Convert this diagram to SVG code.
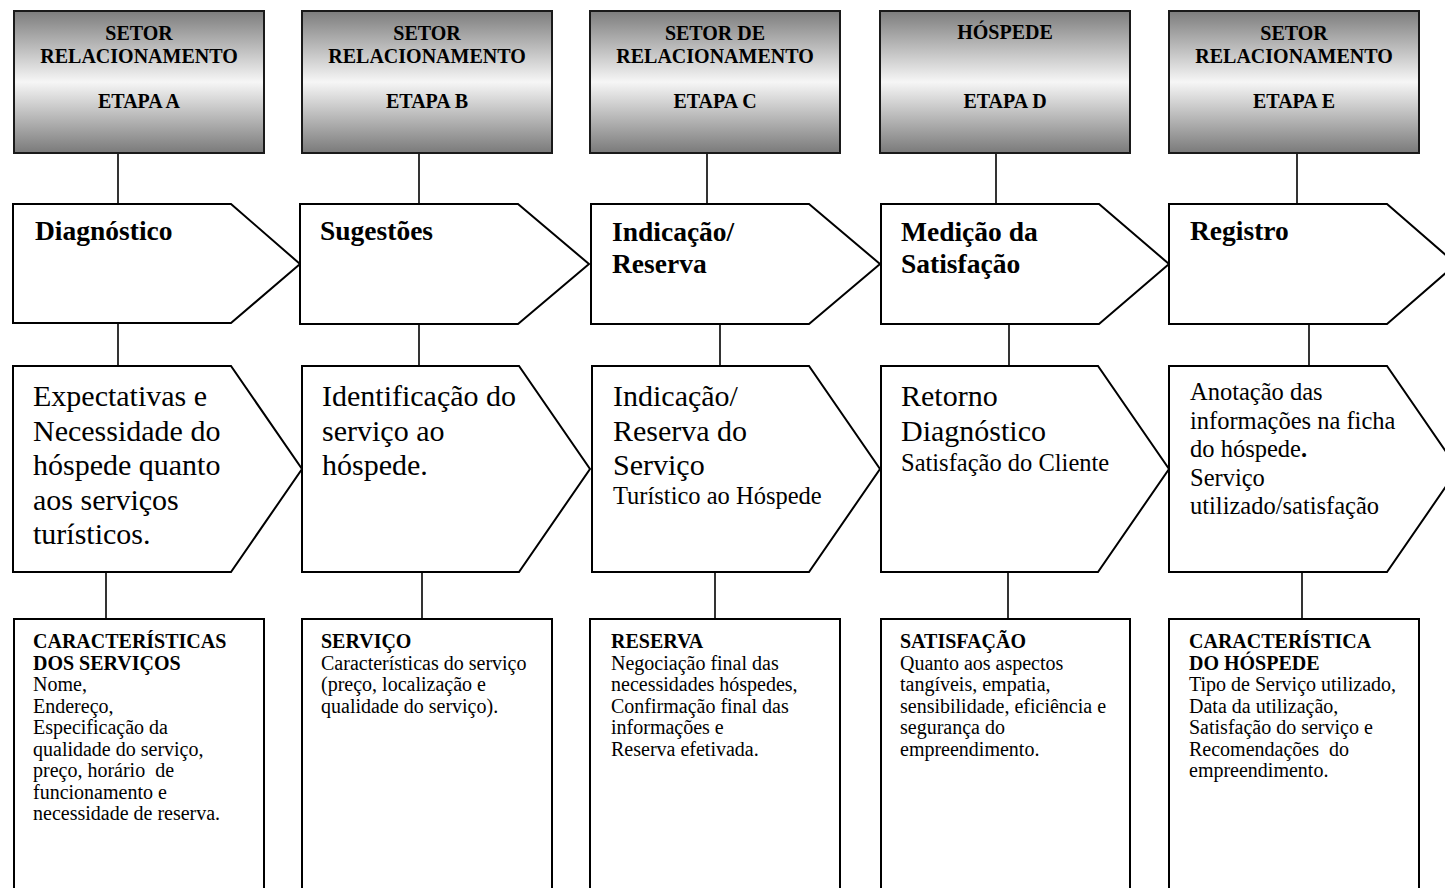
<svg xmlns="http://www.w3.org/2000/svg" width="1445" height="888" viewBox="0 0 1445 888">
<defs>
<linearGradient id="hg" x1="0" y1="0" x2="0" y2="1">
<stop offset="0" stop-color="#7d7d7d"/>
<stop offset="0.5" stop-color="#f6f6f6"/>
<stop offset="1" stop-color="#7a7a7a"/>
</linearGradient>
<style>
.hdr{fill:url(#hg);stroke:#1a1a1a;stroke-width:2}
.shape{fill:#fff;stroke:#000;stroke-width:2}
.ln{stroke:#000;stroke-width:1.6;fill:none}
text{font-family:"Liberation Serif","Times New Roman",serif;fill:#000}
.ht{font-size:20px;font-weight:bold;text-anchor:middle}
.t1{font-size:27.5px;font-weight:bold}
.t2{font-size:30px}
.t2s{font-size:24.5px}
.t3{font-size:20px}
.b{font-weight:bold}
</style>
</defs>
<rect width="1445" height="888" fill="#fff"/>

<g id="connectors">
<line class="ln" x1="118" y1="153" x2="118" y2="204"/>
<line class="ln" x1="419" y1="153" x2="419" y2="204"/>
<line class="ln" x1="707" y1="153" x2="707" y2="204"/>
<line class="ln" x1="996" y1="153" x2="996" y2="204"/>
<line class="ln" x1="1297" y1="153" x2="1297" y2="204"/>
<line class="ln" x1="118" y1="323" x2="118" y2="366"/>
<line class="ln" x1="419" y1="324" x2="419" y2="366"/>
<line class="ln" x1="720" y1="324" x2="720" y2="366"/>
<line class="ln" x1="1009" y1="324" x2="1009" y2="366"/>
<line class="ln" x1="1309" y1="324" x2="1309" y2="366"/>
<line class="ln" x1="106" y1="572" x2="106" y2="619"/>
<line class="ln" x1="422" y1="572" x2="422" y2="619"/>
<line class="ln" x1="715" y1="572" x2="715" y2="619"/>
<line class="ln" x1="1008" y1="572" x2="1008" y2="619"/>
<line class="ln" x1="1302" y1="572" x2="1302" y2="619"/>
</g>

<g id="header-a">
<rect class="hdr" x="14" y="11" width="250" height="142"/>
<text class="ht" x="139" y="40">SETOR</text>
<text class="ht" x="139" y="63">RELACIONAMENTO</text>
<text class="ht" x="139" y="108">ETAPA A</text>
</g>
<g id="header-b">
<rect class="hdr" x="302" y="11" width="250" height="142"/>
<text class="ht" x="427" y="40">SETOR</text>
<text class="ht" x="427" y="63">RELACIONAMENTO</text>
<text class="ht" x="427" y="108">ETAPA B</text>
</g>
<g id="header-c">
<rect class="hdr" x="590" y="11" width="250" height="142"/>
<text class="ht" x="715" y="40">SETOR DE</text>
<text class="ht" x="715" y="63">RELACIONAMENTO</text>
<text class="ht" x="715" y="108">ETAPA C</text>
</g>
<g id="header-d">
<rect class="hdr" x="880" y="11" width="250" height="142"/>
<text class="ht" x="1005" y="39">HÓSPEDE</text>
<text class="ht" x="1005" y="108">ETAPA D</text>
</g>
<g id="header-e">
<rect class="hdr" x="1169" y="11" width="250" height="142"/>
<text class="ht" x="1294" y="40">SETOR</text>
<text class="ht" x="1294" y="63">RELACIONAMENTO</text>
<text class="ht" x="1294" y="108">ETAPA E</text>
</g>

<g id="step-a">
<polygon class="shape" points="13,204 231,204 300,264 231,323 13,323"/>
<text class="t1" x="35" y="240">Diagnóstico</text>
</g>
<g id="step-b">
<polygon class="shape" points="300,204 518,204 589,264 518,324 300,324"/>
<text class="t1" x="320" y="240">Sugestões</text>
</g>
<g id="step-c">
<polygon class="shape" points="591,204 809,204 880,264 809,324 591,324"/>
<text class="t1" x="612" y="241">Indicação/</text>
<text class="t1" x="612" y="273">Reserva</text>
</g>
<g id="step-d">
<polygon class="shape" points="881,204 1099,204 1169,264 1099,324 881,324"/>
<text class="t1" x="901" y="241">Medição da</text>
<text class="t1" x="901" y="273">Satisfação</text>
</g>
<g id="step-e">
<polygon class="shape" points="1169,204 1387,204 1456,264 1387,324 1169,324"/>
<text class="t1" x="1190" y="240">Registro</text>
</g>

<g id="desc-a">
<polygon class="shape" points="13,366 231,366 302,469 231,572 13,572"/>
<text class="t2" x="33" y="406">Expectativas e</text>
<text class="t2" x="33" y="440.5">Necessidade do</text>
<text class="t2" x="33" y="475">hóspede quanto</text>
<text class="t2" x="33" y="509.5">aos serviços</text>
<text class="t2" x="33" y="544">turísticos.</text>
</g>
<g id="desc-b">
<polygon class="shape" points="302,366 519,366 590,469 519,572 302,572"/>
<text class="t2" x="322" y="406">Identificação do</text>
<text class="t2" x="322" y="440.5">serviço ao</text>
<text class="t2" x="322" y="475">hóspede.</text>
</g>
<g id="desc-c">
<polygon class="shape" points="592,366 809,366 880,469 809,572 592,572"/>
<text class="t2" x="613" y="406">Indicação/</text>
<text class="t2" x="613" y="440.5">Reserva do</text>
<text class="t2" x="613" y="475">Serviço</text>
<text class="t2s" x="613" y="504">Turístico ao Hóspede</text>
</g>
<g id="desc-d">
<polygon class="shape" points="881,366 1098,366 1169,469 1098,572 881,572"/>
<text class="t2" x="901" y="406">Retorno</text>
<text class="t2" x="901" y="440.5">Diagnóstico</text>
<text class="t2s" x="901" y="471">Satisfação do Cliente</text>
</g>
<g id="desc-e">
<polygon class="shape" points="1169,366 1387,366 1458,469 1387,572 1169,572"/>
<text class="t2s" x="1190" y="400">Anotação das</text>
<text class="t2s" x="1190" y="428.5">informações na ficha</text>
<text class="t2s" x="1190" y="457">do hóspede<tspan class="b">.</tspan></text>
<text class="t2s" x="1190" y="485.5">Serviço</text>
<text class="t2s" x="1190" y="514">utilizado/satisfação</text>
</g>

<g id="detail-a">
<rect class="shape" x="14" y="619" width="250" height="290"/>
<text class="t3 b" x="33" y="648">CARACTERÍSTICAS</text>
<text class="t3 b" x="33" y="669.5">DOS SERVIÇOS</text>
<text class="t3" x="33" y="691">Nome,</text>
<text class="t3" x="33" y="712.5">Endereço,</text>
<text class="t3" x="33" y="734">Especificação da</text>
<text class="t3" x="33" y="755.5">qualidade do serviço,</text>
<text class="t3" x="33" y="777" xml:space="preserve">preço, horário  de</text>
<text class="t3" x="33" y="798.5">funcionamento e</text>
<text class="t3" x="33" y="820">necessidade de reserva.</text>
</g>
<g id="detail-b">
<rect class="shape" x="302" y="619" width="250" height="290"/>
<text class="t3 b" x="321" y="648">SERVIÇO</text>
<text class="t3" x="321" y="669.5">Características do serviço</text>
<text class="t3" x="321" y="691">(preço, localização e</text>
<text class="t3" x="321" y="712.5">qualidade do serviço).</text>
</g>
<g id="detail-c">
<rect class="shape" x="590" y="619" width="250" height="290"/>
<text class="t3 b" x="611" y="648">RESERVA</text>
<text class="t3" x="611" y="669.5">Negociação final das</text>
<text class="t3" x="611" y="691">necessidades hóspedes,</text>
<text class="t3" x="611" y="712.5">Confirmação final das</text>
<text class="t3" x="611" y="734">informações e</text>
<text class="t3" x="611" y="755.5">Reserva efetivada.</text>
</g>
<g id="detail-d">
<rect class="shape" x="881" y="619" width="249" height="290"/>
<text class="t3 b" x="900" y="648">SATISFAÇÃO</text>
<text class="t3" x="900" y="669.5">Quanto aos aspectos</text>
<text class="t3" x="900" y="691">tangíveis, empatia,</text>
<text class="t3" x="900" y="712.5">sensibilidade, eficiência e</text>
<text class="t3" x="900" y="734">segurança do</text>
<text class="t3" x="900" y="755.5">empreendimento.</text>
</g>
<g id="detail-e">
<rect class="shape" x="1169" y="619" width="250" height="290"/>
<text class="t3 b" x="1189" y="648">CARACTERÍSTICA</text>
<text class="t3 b" x="1189" y="669.5">DO HÓSPEDE</text>
<text class="t3" x="1189" y="691">Tipo de Serviço utilizado,</text>
<text class="t3" x="1189" y="712.5">Data da utilização,</text>
<text class="t3" x="1189" y="734">Satisfação do serviço e</text>
<text class="t3" x="1189" y="755.5" xml:space="preserve">Recomendações  do</text>
<text class="t3" x="1189" y="777">empreendimento.</text>
</g>
</svg>
